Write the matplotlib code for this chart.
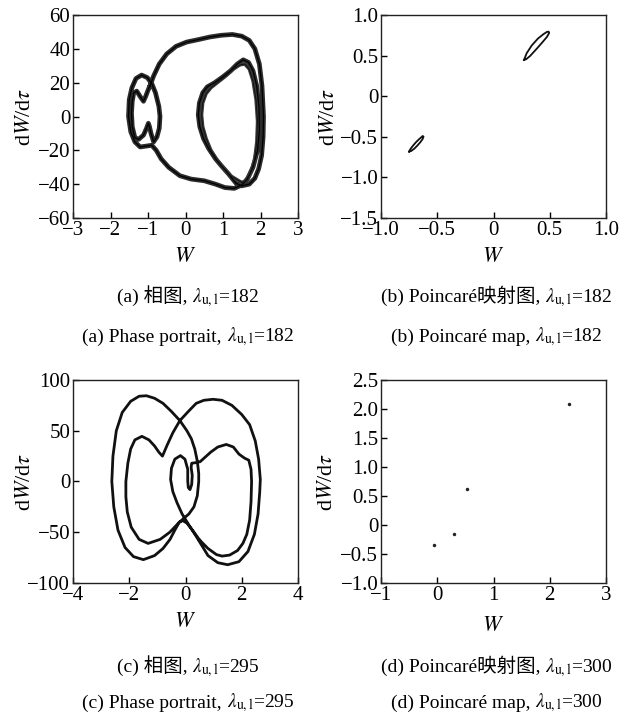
import matplotlib
matplotlib.use("Agg")
import matplotlib.pyplot as plt
from matplotlib.offsetbox import TextArea, HPacker, AnnotationBbox

plt.rcParams['font.family'] = ['Liberation Serif', 'Noto Sans CJK SC']
plt.rcParams['mathtext.fontset'] = 'stix'

# (a) phase portrait, lambda = 182
a_w = [-0.95, -0.85, -0.70, -0.50, -0.25, 0.03, 0.35, 0.65, 0.95, 1.25, 1.50, 1.70, 1.85, 1.97, 2.04, 2.08,
       2.07, 2.03, 1.95, 1.85, 1.70, 1.50, 1.35,
       1.15, 0.95, 0.80, 0.62, 0.48, 0.38, 0.34, 0.37, 0.46, 0.58, 0.78, 1.00, 1.20, 1.38, 1.54, 1.68, 1.80,
       1.90, 1.96, 1.97, 1.92, 1.80, 1.65, 1.50,
       1.30, 1.05, 0.80, 0.50, 0.15, -0.15, -0.45, -0.65, -0.78, -0.90,
       -1.05, -1.21, -1.35, -1.46, -1.52, -1.50, -1.43, -1.32, -1.17, -1.02, -0.90, -0.80, -0.71, -0.68,
       -0.70, -0.76, -0.85,
       -0.92, -0.96, -0.99, -1.04, -1.12, -1.25, -1.35, -1.42, -1.44, -1.42, -1.38, -1.30, -1.20, -1.12,
       -1.06, -1.00, -0.95]
a_v = [18, 24, 31, 37, 41.5, 44, 45.5, 47, 48, 48.5, 47.5, 45, 40, 31, 18, 0,
       -12, -23, -31, -36.5, -40, -41, -39.5,
       -34, -29, -25, -19, -13, -6, 1, 8, 14, 17.5, 20, 23.5, 27, 31, 33.5, 32, 27,
       18, 5, -8, -20, -30, -37, -40.5,
       -42.5, -42, -40, -38, -37, -35, -30, -25, -20, -17,
       -17.5, -18, -15, -9, 0, 10, 17, 22.5, 24.5, 23, 19.5, 14, 6, 0,
       -7, -12, -15,
       -10, -6, -4, -7, -11, -13.5, -12.5, -6, 2, 9, 14, 15, 11.5, 9,
       12, 15.5, 18]
# a neighbouring pass of the right-hand loop
a2_w = [1.50, 1.20, 1.00, 0.85, 0.68, 0.55, 0.46, 0.43, 0.46, 0.55, 0.68, 0.88, 1.08, 1.28, 1.45, 1.58,
        1.70, 1.80, 1.88, 1.92, 1.90, 1.84, 1.72, 1.58, 1.50]
a2_v = [-39, -35, -30, -26, -20, -13, -6, 1, 8, 13.5, 17, 20.5, 24, 28, 30.5, 31,
        28, 21, 10, -3, -15, -26, -34, -38.5, -39]

# (b) Poincare map, lambda = 182
b1_w = [0.271, 0.295, 0.340, 0.395, 0.445, 0.475, 0.490, 0.495, 0.475, 0.432, 0.378, 0.325, 0.290, 0.271]
b1_v = [0.447, 0.530, 0.625, 0.710, 0.765, 0.792, 0.795, 0.780, 0.730, 0.660, 0.575, 0.495, 0.455, 0.447]
b2_w = [-0.750, -0.738, -0.716, -0.690, -0.662, -0.642, -0.630, -0.622, -0.630, -0.650, -0.676, -0.703, -0.732, -0.750]
b2_v = [-0.682, -0.650, -0.610, -0.568, -0.530, -0.506, -0.490, -0.497, -0.528, -0.566, -0.607, -0.645, -0.675, -0.682]

# (c) phase portrait, lambda = 295 (one closed orbit)
c_w = [0.50, 0.25, 0.05, -0.10, -0.22, -0.38, -0.55, -0.80, -1.10, -1.50, -1.85, -2.15, -2.40, -2.55,
       -2.62, -2.58, -2.46, -2.25, -1.95, -1.65, -1.39, -1.10, -0.80, -0.50, -0.20, 0.05, 0.21, 0.33,
       0.42, 0.47, 0.47, 0.42, 0.30, 0.12, -0.05, -0.25, -0.56, -0.90, -1.33, -1.65, -1.93, -2.07,
       -2.12, -2.12, -2.05, -1.95, -1.80, -1.55, -1.30, -1.10, -0.95, -0.82, -0.65, -0.45, -0.20, 0.10,
       0.38, 0.65, 0.98, 1.30, 1.65, 2.00, 2.28, 2.48, 2.60, 2.66, 2.64, 2.58, 2.45, 2.22, 1.90, 1.50,
       1.15, 0.80, 0.38, 0.10, -0.12, -0.30, -0.45, -0.53, -0.50, -0.38, -0.18, -0.02, 0.08, 0.08, 0.10,
       0.16, 0.22, 0.24, 0.20, 0.22, 0.35, 0.52, 0.70, 0.90, 1.15, 1.45, 1.70, 1.90, 2.10, 2.25, 2.33,
       2.35, 2.33, 2.28, 2.18, 2.04, 1.85, 1.57, 1.30, 1.10, 0.80, 0.50]
c_v = [-57.6, -48, -41, -38.5, -40, -48, -57, -66, -73, -77, -74, -65, -48, -25,
       0, 25, 50, 68, 79, 84, 84.5, 82, 77, 69, 60, 50, 42, 32,
       20, 8, 0, -14, -25, -32, -36, -41, -50, -57, -61, -57, -45, -30,
       -15, 0, 18, 32, 41, 44.5, 41, 35, 29, 25, 36, 48, 60, 69,
       77, 80, 81, 80, 75, 66, 56, 40, 22, 2, -10, -32, -52, -69, -79, -82,
       -80, -73, -54, -42, -32, -21, -10, 2, 13, 22, 25.5, 22, 12, 0, -6,
       -8, -3, 6, 14, 18, 18.5, 19.5, 24, 29, 34, 36.5, 34, 27, 23, 21, 12,
       0, -20, -38, -52, -61, -68, -72.5, -73.5, -72, -66, -57.6]

# (d) Poincare map, lambda = 300
d_w = [2.345, 0.530, 0.292, -0.065]
d_v = [2.088, 0.613, -0.153, -0.350]

FIG_H = 718


def style_axes(ax, xlim, ylim, xticks, xlabels, yticks, ylabels, ylab_x, xlab_y):
    ax.set_xlim(xlim)
    ax.set_ylim(ylim)
    ax.set_xticks(xticks, xlabels)
    ax.set_yticks(yticks, ylabels)
    ax.tick_params(direction='in', length=4, width=1, labelsize=15, pad=2,
                   top=False, right=False)
    for s in ax.spines.values():
        s.set_linewidth(1.0)
        s.set_color('#222222')
    ax.set_xlabel(r'$W$', fontsize=16)
    ax.set_ylabel(r'd$W$/d$\tau$', fontsize=16)
    ax.xaxis.set_label_coords(0.5, xlab_y)
    ax.xaxis.label.set_va('center')
    ax.yaxis.set_label_coords(ylab_x, 0.5)
    ax.yaxis.label.set_va('center')


def caption(fig, x, y_top, head, value):
    # head may contain CJK, so it is kept out of mathtext
    parts = [TextArea(head, textprops=dict(fontsize=14)),
             TextArea(r'$\lambda_{\mathrm{u,l}}$=' + value, textprops=dict(fontsize=14))]
    box = HPacker(children=parts, align='baseline', pad=0, sep=0)
    ab = AnnotationBbox(box, (x, FIG_H - y_top), xycoords='figure pixels',
                        frameon=False, box_alignment=(0.5, 0.5))
    fig.add_artist(ab)


fig = plt.figure(figsize=(6.3, 7.18), dpi=100)
W_AX, H_AX = 225 / 630, 203 / 718
ax_a = fig.add_axes([73 / 630, 1 - 218 / 718, W_AX, H_AX])
ax_b = fig.add_axes([381 / 630, 1 - 218 / 718, W_AX, H_AX])
ax_c = fig.add_axes([73 / 630, 1 - 583 / 718, W_AX, H_AX])
ax_d = fig.add_axes([381 / 630, 1 - 583 / 718, W_AX, H_AX])

ax_a.plot(a_w, a_v, color='#2c2c2c', lw=3.4, solid_joinstyle='round')
ax_a.plot(a2_w, a2_v, color='#3a3a3a', lw=2.4, solid_joinstyle='round')
ax_a.plot(a_w, a_v, color='#000000', lw=0.9, solid_joinstyle='round')
ax_a.plot(a2_w, a2_v, color='#111111', lw=0.7, solid_joinstyle='round')
style_axes(ax_a, (-3, 3), (-60, 60), [-3, -2, -1, 0, 1, 2, 3],
           ['−3', '−2', '−1', '0', '1', '2', '3'],
           [-60, -40, -20, 0, 20, 40, 60], ['−60', '−40', '−20', '0', '20', '40', '60'],
           -0.213, -0.197)

ax_b.plot(b1_w, b1_v, color='#111111', lw=1.3, solid_joinstyle='round')
ax_b.plot(b2_w, b2_v, color='#111111', lw=1.3, solid_joinstyle='round')
style_axes(ax_b, (-1, 1), (-1.5, 1), [-1, -0.5, 0, 0.5, 1],
           ['−1.0', '−0.5', '0', '0.5', '1.0'],
           [-1.5, -1, -0.5, 0, 0.5, 1], ['−1.5', '−1.0', '−0.5', '0', '0.5', '1.0'],
           -0.227, -0.197)

ax_c.plot(c_w, c_v, color='#111111', lw=2.0, solid_joinstyle='round')
style_axes(ax_c, (-4, 4), (-100, 100), [-4, -2, 0, 2, 4],
           ['−4', '−2', '0', '2', '4'],
           [-100, -50, 0, 50, 100], ['−100', '−50', '0', '50', '100'],
           -0.213, -0.197)

ax_d.plot(d_w, d_v, 'o', color='#222222', ms=2.5, mec='none')
style_axes(ax_d, (-1, 3), (-1, 2.5), [-1, 0, 1, 2, 3],
           ['−1', '0', '1', '2', '3'],
           [-1, -0.5, 0, 0.5, 1, 1.5, 2, 2.5],
           ['−1.0', '−0.5', '0', '0.5', '1.0', '1.5', '2.0', '2.5'],
           -0.236, -0.216)

caption(fig, 188, 297, '(a) 相图, ', '182')
caption(fig, 188, 337, '(a) Phase portrait, ', '182')
caption(fig, 497, 297, '(b) Poincaré映射图, ', '182')
caption(fig, 497, 337, '(b) Poincaré map, ', '182')
caption(fig, 188, 667, '(c) 相图, ', '295')
caption(fig, 188, 703, '(c) Phase portrait, ', '295')
caption(fig, 497, 667, '(d) Poincaré映射图, ', '300')
caption(fig, 497, 703, '(d) Poincaré map, ', '300')

fig.savefig('out.png', dpi=100)
